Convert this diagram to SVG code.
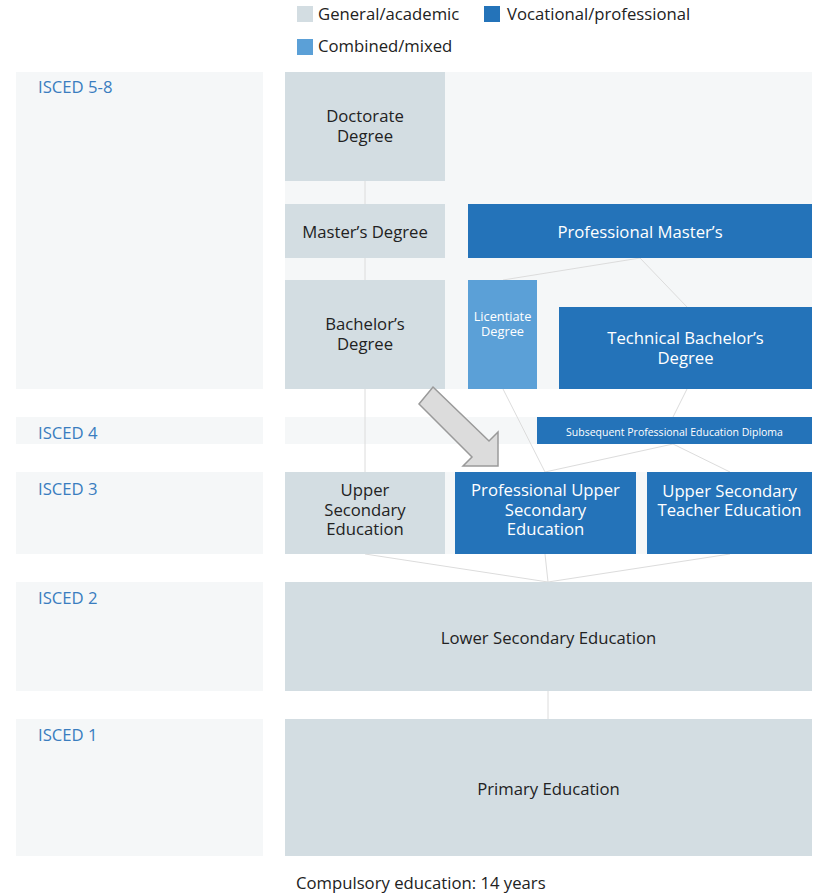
<svg xmlns="http://www.w3.org/2000/svg" width="817" height="894" viewBox="0 0 817 894">
<style>
text{font-family:"Open Sans","Noto Sans","Liberation Sans",sans-serif;}
.band{fill:#f5f7f8;}
.gen{fill:#d3dde2;}
.voc{fill:#2473b9;}
.mix{fill:#5ba0d7;}
.t{font-size:16.7px;fill:#222;text-anchor:middle;}
.w{font-size:16.7px;fill:#fff;text-anchor:middle;}
.lab{font-size:16.7px;fill:#3a7dbf;}
.leg{font-size:16.7px;fill:#222;}
.con line{stroke:#dcdcdc;stroke-width:1;fill:none;}
</style>
<rect width="817" height="894" fill="#fff"/>
<g id="legend">
<rect x="297" y="6" width="16" height="16" class="gen"/>
<text x="318" y="20" class="leg">General/academic</text>
<rect x="484" y="6" width="16" height="16" class="voc"/>
<text x="507" y="20" class="leg">Vocational/professional</text>
<rect x="297" y="39" width="16" height="16" class="mix"/>
<text x="318" y="52" class="leg">Combined/mixed</text>
</g>
<g id="bands">
<rect x="16" y="72" width="247" height="317" class="band"/>
<rect x="285" y="72" width="527" height="317" class="band"/>
<rect x="16" y="417" width="247" height="27" class="band"/>
<rect x="285" y="417" width="527" height="27" class="band"/>
<rect x="16" y="472" width="247" height="82" class="band"/>
<rect x="285" y="472" width="527" height="82" class="band"/>
<rect x="16" y="582" width="247" height="109" class="band"/>
<rect x="16" y="719" width="247" height="137" class="band"/>
<text x="38" y="93" class="lab">ISCED 5-8</text>
<text x="38" y="439" class="lab">ISCED 4</text>
<text x="38" y="495" class="lab">ISCED 3</text>
<text x="38" y="604" class="lab">ISCED 2</text>
<text x="38" y="741" class="lab">ISCED 1</text>
</g>
<g id="connectors" class="con">
<line x1="365" y1="181" x2="365" y2="204"/>
<line x1="365" y1="258" x2="365" y2="280"/>
<line x1="365" y1="389" x2="365" y2="472"/>
<line x1="640" y1="258" x2="503" y2="280"/>
<line x1="640" y1="258" x2="687" y2="307"/>
<line x1="687" y1="389" x2="673" y2="417"/>
<line x1="503" y1="389" x2="545" y2="472"/>
<line x1="673" y1="444" x2="545" y2="472"/>
<line x1="673" y1="444" x2="730" y2="472"/>
<line x1="365" y1="554" x2="548" y2="582"/>
<line x1="545" y1="554" x2="548" y2="582"/>
<line x1="730" y1="554" x2="548" y2="582"/>
<line x1="548" y1="691" x2="548" y2="719"/>
</g>
<g id="doctorate">
<rect x="285" y="72" width="160" height="109" class="gen"/>
<text x="365" y="122" class="t">Doctorate</text>
<text x="365" y="142" class="t">Degree</text>
</g>
<g id="masters">
<rect x="285" y="204" width="160" height="54" class="gen"/>
<text x="365" y="238" class="t">Master’s Degree</text>
</g>
<g id="bachelors">
<rect x="285" y="280" width="160" height="109" class="gen"/>
<text x="365" y="330" class="t">Bachelor’s</text>
<text x="365" y="350" class="t">Degree</text>
</g>
<g id="prof-masters">
<rect x="468" y="204" width="344" height="54" class="voc"/>
<text x="640" y="238" class="w">Professional Master’s</text>
</g>
<g id="licentiate">
<rect x="468" y="280" width="69" height="109" class="mix"/>
<text x="502.5" y="321" class="w" style="font-size:12.8px">Licentiate</text>
<text x="502.5" y="336" class="w" style="font-size:12.8px">Degree</text>
</g>
<g id="tech-bachelors">
<rect x="559" y="307" width="253" height="82" class="voc"/>
<text x="685.5" y="344" class="w">Technical Bachelor’s</text>
<text x="685.5" y="364" class="w">Degree</text>
</g>
<g id="subsequent">
<rect x="537" y="417" width="275" height="27" class="voc"/>
<text x="674.5" y="436" class="w" style="font-size:10.5px">Subsequent Professional Education Diploma</text>
</g>
<g id="upper-sec">
<rect x="285" y="472" width="160" height="82" class="gen"/>
<text x="365" y="496" class="t">Upper</text>
<text x="365" y="516" class="t">Secondary</text>
<text x="365" y="535" class="t">Education</text>
</g>
<g id="prof-upper-sec">
<rect x="455" y="472" width="181" height="82" class="voc"/>
<text x="545.5" y="496" class="w">Professional Upper</text>
<text x="545.5" y="516" class="w">Secondary</text>
<text x="545.5" y="535" class="w">Education</text>
</g>
<g id="teacher">
<rect x="647" y="472" width="165" height="82" class="voc"/>
<text x="729.5" y="497" class="w">Upper Secondary</text>
<text x="729.5" y="516" class="w">Teacher Education</text>
</g>
<g id="lower-sec">
<rect x="285" y="582" width="527" height="109" class="gen"/>
<text x="548.5" y="644" class="t">Lower Secondary Education</text>
</g>
<g id="primary">
<rect x="285" y="719" width="527" height="137" class="gen"/>
<text x="548.5" y="795" class="t">Primary Education</text>
</g>
<g id="arrow">
<polygon points="433,387 489,441 498,432 498,466 463,466 472,457 419,404" fill="#dcdcdc" stroke="#9a9a9a" stroke-width="1.5" stroke-linejoin="miter"/>
</g>
<text x="296" y="889" class="leg">Compulsory education: 14 years</text>
</svg>
